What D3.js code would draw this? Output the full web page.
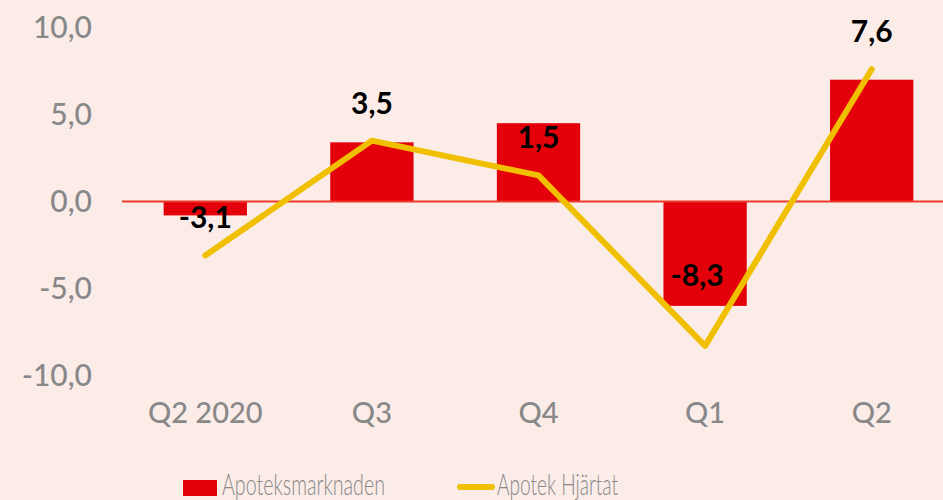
<!DOCTYPE html>
<html>
<head>
<meta charset="utf-8">
<script src="https://d3js.org/d3.v7.min.js"></script>
<style>
  body { margin: 0; background: #fbece8; }
  svg { display: block; }
</style>
</head>
<body>
<script>
    // data
    const quarters = ["Q2 2020", "Q3", "Q4", "Q1", "Q2"];
    const market = [-0.8, 3.4, 4.5, -6.0, 7.0];        // Apoteksmarknaden (bars)
    const hjartat = [-3.1, 3.5, 1.5, -8.3, 7.6];       // Apotek Hjärtat (line)
    const y_ticks = [10, 5, 0, -5, -10];
    const series_names = ["Apoteksmarknaden", "Apotek Hjärtat"];

    const svg_w = 943, svg_h = 500;
    const red = "#e3000b", yellow = "#f0c000", grey = "#888888";
    const fmt = v => d3.format(".1f")(v).replace(".", ",").replace("−", "-");

    let svg = d3.select("body").append("svg")
        .attr("width", svg_w)
        .attr("height", svg_h)
        .style("font-family", "Lato, sans-serif");

    let x_scale = d3.scaleBand()
        .domain(quarters)
        .range([122, 955])
        .paddingInner(0.5)
        .paddingOuter(0.25);

    let y_scale = d3.scaleLinear()
        .domain([-10, 10])
        .range([375.5, 27.5]);

    const cx = q => x_scale(q) + x_scale.bandwidth() / 2;

    // y axis labels only, no line or ticks
    let y_axis = d3.axisLeft(y_scale).tickValues(y_ticks).tickSize(0).tickPadding(0)
        .tickFormat(fmt);
    svg.append("g")
        .attr("transform", "translate(92,0)")
        .call(y_axis)
        .call(g => g.select(".domain").remove())
        .selectAll("text")
        .attr("fill", grey)
        .style("font-size", "30px")
        .style("font-weight", 500)
        .style("font-family", "Lato, sans-serif");

    // x axis labels
    let x_axis = d3.axisBottom(x_scale).tickSize(0).tickPadding(0);
    svg.append("g")
        .attr("transform", "translate(0,402)")
        .call(x_axis)
        .call(g => g.select(".domain").remove())
        .selectAll("text")
        .attr("fill", grey)
        .attr("dy", "0.72em")
        .style("font-size", "29px")
        .style("font-weight", 500)
        .style("font-family", "Lato, sans-serif");

    // bars
    svg.selectAll(".bar")
        .data(market)
        .enter()
        .append("rect")
        .attr("class", "bar")
        .attr("x", (d, i) => x_scale(quarters[i]))
        .attr("width", x_scale.bandwidth())
        .attr("y", d => y_scale(Math.max(0, d)))
        .attr("height", d => Math.abs(y_scale(d) - y_scale(0)))
        .attr("fill", red);

    // zero line
    svg.append("line")
        .attr("x1", 122).attr("x2", svg_w)
        .attr("y1", y_scale(0)).attr("y2", y_scale(0))
        .attr("stroke", "#ee3a2a")
        .attr("stroke-width", 2);

    // line series
    svg.append("path")
        .datum(hjartat)
        .attr("fill", "none")
        .attr("stroke", yellow)
        .attr("stroke-width", 6)
        .attr("stroke-linejoin", "round")
        .attr("stroke-linecap", "round")
        .attr("d", d3.line()
            .x((d, i) => cx(quarters[i]))
            .y(d => y_scale(d)));

    // value labels above the line points; the Q1 label sits inside its bar
    svg.selectAll(".lbl")
        .data(hjartat)
        .enter()
        .append("text")
        .attr("class", "lbl")
        .attr("x", (d, i) => cx(quarters[i]) + (i === 3 ? -8 : 0))
        .attr("y", (d, i) => y_scale(d) - (i === 3 ? 60 : 27))
        .attr("text-anchor", "middle")
        .attr("fill", "#000")
        .style("font-size", "30px")
        .style("font-weight", "bold")
        .text(fmt);

    // legend
    let legend = svg.append("g");
    legend.append("rect")
        .attr("x", 183).attr("y", 480)
        .attr("width", 34).attr("height", 16)
        .attr("fill", red);
    legend.append("text")
        .attr("x", 222).attr("y", 495)
        .attr("fill", grey)
        .style("font-size", "29px")
        .style("font-weight", 300)
        .attr("textLength", 163)
        .attr("lengthAdjust", "spacingAndGlyphs")
        .text(series_names[0]);
    legend.append("line")
        .attr("x1", 460).attr("x2", 492)
        .attr("y1", 487).attr("y2", 487)
        .attr("stroke", yellow)
        .attr("stroke-width", 6)
        .attr("stroke-linecap", "round");
    legend.append("text")
        .attr("x", 497).attr("y", 495)
        .attr("fill", grey)
        .style("font-size", "29px")
        .style("font-weight", 300)
        .attr("textLength", 121)
        .attr("lengthAdjust", "spacingAndGlyphs")
        .text(series_names[1]);
</script>
</body>
</html>
